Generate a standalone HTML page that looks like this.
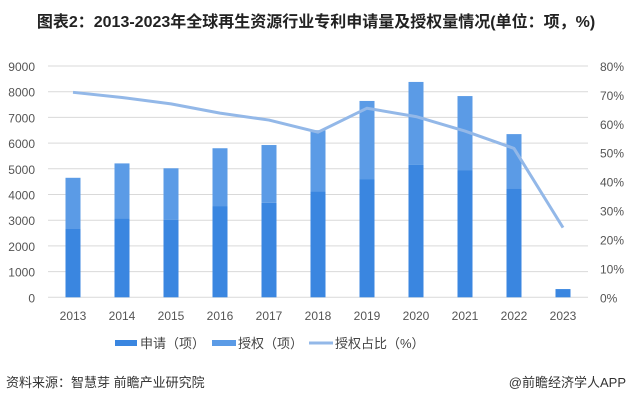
<!DOCTYPE html>
<html><head><meta charset="utf-8"><style>
body{margin:0;width:632px;height:401px;background:#fff;overflow:hidden;font-family:"Liberation Sans","Noto Sans CJK SC",sans-serif;}
svg text{font-family:"Liberation Sans","Noto Sans CJK SC",sans-serif;}
</style></head><body>
<svg id="c" width="632" height="401">
<text x="316" y="27" text-anchor="middle" font-size="16" font-weight="bold" fill="#222">图表2：2013-2023年全球再生资源行业专利申请量及授权量情况(单位：项，%)</text>
<g id="grid"></g>
<g id="bars"></g>
<g id="line"></g>
<g id="axes"></g>
<g>
<rect x="115" y="340" width="22" height="6" fill="#3a86e0"/>
<text x="140" y="348" font-size="13" fill="#444">申请（项）</text>
<rect x="212" y="340" width="24" height="6" fill="#5b9be6"/>
<text x="238" y="348" font-size="13" fill="#444">授权（项）</text>
<line x1="309" y1="343" x2="333" y2="343" stroke="#93b8e8" stroke-width="3"/>
<text x="335" y="348" font-size="13" fill="#444">授权占比（%）</text>
</g>
<text x="6" y="387" font-size="13" fill="#333">资料来源：智慧芽 前瞻产业研究院</text>
<text x="626" y="387" font-size="13" fill="#333" text-anchor="end">@前瞻经济学人APP</text>
</svg>
<script>
const years=["2013","2014","2015","2016","2017","2018","2019","2020","2021","2022","2023"];
const applyVals=[2685,3070,3010,3550,3680,4130,4600,5150,4950,4240,320];
const totalVals=[4650,5210,5020,5800,5925,6500,7640,8380,7830,6350,320];
const ratioVals=[70.9,69.1,66.9,63.7,61.3,57.1,65.4,62.5,57.5,51.5,24.1];
const leftTicks=[0,1000,2000,3000,4000,5000,6000,7000,8000,9000];
const rightTicks=[0,10,20,30,40,50,60,70,80];
const NS="http://www.w3.org/2000/svg";
const x0=48,x1=588,yb=297.3,yt=66;
const yL=v=>yb-(v/9000)*(yb-yt);
const yR=v=>yb-(v/80)*(yb-yt);
const xC=i=>73+i*49;
function mk(t,a,p){const e=document.createElementNS(NS,t);for(const k in a)e.setAttribute(k,a[k]);p.appendChild(e);return e;}
const g=document.getElementById('grid'),b=document.getElementById('bars'),l=document.getElementById('line'),ax=document.getElementById('axes');
leftTicks.forEach(v=>{const ln=mk('line',{x1:x0,x2:x1,y1:yL(v),y2:yL(v),stroke:'#d9d9d9','stroke-width':1},g);


const t=mk('text',{x:35,y:yL(v)+5,'text-anchor':'end','font-size':12,fill:'#555'},ax);t.textContent=v;

});
rightTicks.forEach(v=>{const t=mk('text',{x:600,y:yR(v)+5,'font-size':12,fill:'#555'},ax);t.textContent=v+'%';

});
years.forEach((y,i)=>{const w=15,x=xC(i)-w/2;
const r1=mk('rect',{x:x,y:yL(applyVals[i]),width:w,height:yb-yL(applyVals[i]),fill:'#3a86e0'},b);


const gv=totalVals[i]-applyVals[i];
if(gv>0){const r2=mk('rect',{x:x,y:yL(totalVals[i]),width:w,height:yL(applyVals[i])-yL(totalVals[i]),fill:'#5b9be6'},b);

}
const t=mk('text',{x:xC(i),y:320,'text-anchor':'middle','font-size':12,fill:'#555'},ax);t.textContent=y;

});
const pts=ratioVals.map((v,i)=>xC(i)+','+yR(v)).join(' ');
const pl=mk('polyline',{points:pts,fill:'none',stroke:'#93b8e8','stroke-width':3,'stroke-linejoin':'round'},l);


</script>
</body></html>
